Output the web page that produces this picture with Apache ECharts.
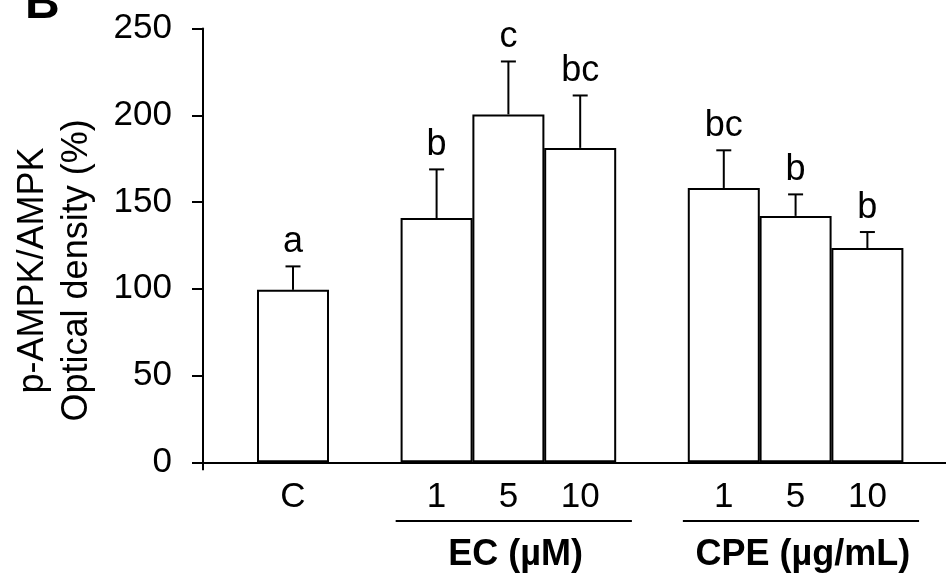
<!DOCTYPE html>
<html>
<head>
<meta charset="utf-8">
<script src="https://cdn.jsdelivr.net/npm/echarts@6/dist/echarts.min.js"></script>
<style>html,body{margin:0;padding:0;background:#fff}#c{width:946px;height:584px}</style>
</head>
<body>
<div id="c"></div>
<script>
// ---- data ----
const categories = ['C', '', '1', '5', '10', '', '1', '5', '10'];
const means      = [99.4, null, 140.8, 200.5, 181.2, null, 158.1, 142.0, 123.5];
const errors     = [13.5, null, 28.0, 30.5, 30.2, null, 21.7, 12.4, 9.2];
const letters    = ['a', '', 'b', 'c', 'bc', '', 'bc', 'b', 'b'];
const yMin = 0, yMax = 250, yStep = 50;
const groupNames = ['EC (µM)', 'CPE (µg/mL)'];
const groupFirst = [2, 6];
const groupLast  = [4, 8];
const panelLabel = 'B';
const yTitle = 'p-AMPK/AMPK\nOptical density (%)';

// ---- layout ----
const FONT = 'Arial, "Liberation Sans", sans-serif';
const xMin = -1.2535, xMax = 9.095;
const catIdx = categories.map((c, i) => i).filter(i => categories[i] !== '');

const barData = [];
const errData = [];
means.forEach((v, i) => {
  if (v == null) return;
  barData.push([i, v]);
  errData.push([i, v, errors[i]]);
});
const groupData = groupNames.map((n, g) => [groupFirst[g], groupLast[g], g]);

const chart = echarts.init(document.getElementById('c'), null, {renderer: 'canvas'});
chart.setOption({
  animation: false,
  backgroundColor: '#fff',
  title: {
    text: panelLabel, left: 20, top: -24,
    textStyle: {fontFamily: FONT, fontSize: 48, fontWeight: 'bold', color: '#000'}
  },
  grid: [
    {left: 203, right: 0, top: 28.5, bottom: 121.7, containLabel: false},
    {left: 203, right: 0, top: 500, bottom: 0, containLabel: false}
  ],
  xAxis: [
    {
      type: 'value', gridIndex: 0, min: xMin, max: xMax,
      splitLine: {show: false},
      axisLine: {show: true, onZero: false, lineStyle: {color: '#000', width: 2}},
      axisTick: {show: true, length: 8, customValues: [xMin], lineStyle: {color: '#000', width: 2}},
      axisLabel: {
        show: true, customValues: catIdx, margin: 18,
        formatter: v => categories[Math.round(v)] || '',
        fontFamily: FONT, fontSize: 35, color: '#000'
      }
    },
    {type: 'value', gridIndex: 1, min: xMin, max: xMax, show: false}
  ],
  yAxis: [
    {
      type: 'value', gridIndex: 0, min: yMin, max: yMax, interval: yStep,
      splitLine: {show: false},
      axisLine: {show: true, onZero: false, lineStyle: {color: '#000', width: 2}},
      axisTick: {show: true, length: 11, lineStyle: {color: '#000', width: 2}},
      axisLabel: {margin: 31, fontFamily: FONT, fontSize: 35, color: '#000'},
      name: yTitle, nameLocation: 'middle', nameGap: 104,
      nameTextStyle: {
        fontFamily: FONT, fontSize: 36, color: '#000', lineHeight: 44,
        align: 'center', padding: [0, 50, 0, 0]
      }
    },
    {type: 'value', gridIndex: 1, min: 0, max: 1, inverse: true, show: false}
  ],
  series: [
    {
      type: 'bar', xAxisIndex: 0, yAxisIndex: 0,
      data: barData, barWidth: 72,
      itemStyle: {color: '#fff', borderColor: '#000', borderWidth: 2},
      z: 2
    },
    {
      type: 'custom', xAxisIndex: 0, yAxisIndex: 0, clip: false, z: 3,
      data: errData,
      renderItem: function (params, api) {
        const i = api.value(0), m = api.value(1), e = api.value(2);
        const base = api.coord([i, m]);
        const top = api.coord([i, m + e]);
        const stroke = {stroke: '#000', lineWidth: 2};
        return {
          type: 'group',
          children: [
            {type: 'line', shape: {x1: base[0], y1: base[1], x2: top[0], y2: top[1]}, style: stroke},
            {type: 'line', shape: {x1: top[0] - 7.5, y1: top[1], x2: top[0] + 7.5, y2: top[1]}, style: stroke},
            {type: 'text', style: {
              text: letters[Math.round(i)], x: top[0], y: top[1] - 6,
              align: 'center', verticalAlign: 'bottom',
              font: '36px ' + FONT, fill: '#000'
            }}
          ]
        };
      }
    },
    {
      type: 'custom', xAxisIndex: 1, yAxisIndex: 1, clip: false,
      data: groupData,
      renderItem: function (params, api) {
        const a = api.value(0), b = api.value(1), g = Math.round(api.value(2));
        const p1 = api.coord([a - 0.57, 0.25]);
        const p2 = api.coord([b + 0.72, 0.25]);
        const pt = api.coord([(a + b) / 2 + 0.1, 0.655]);
        return {
          type: 'group',
          children: [
            {type: 'line', shape: {x1: p1[0], y1: p1[1], x2: p2[0], y2: p2[1]},
             style: {stroke: '#000', lineWidth: 2}},
            {type: 'text', style: {
              text: groupNames[g], x: pt[0], y: pt[1],
              align: 'center', verticalAlign: 'middle',
              font: 'bold 36px ' + FONT, fill: '#000'
            }}
          ]
        };
      }
    }
  ]
});
</script>
</body>
</html>
